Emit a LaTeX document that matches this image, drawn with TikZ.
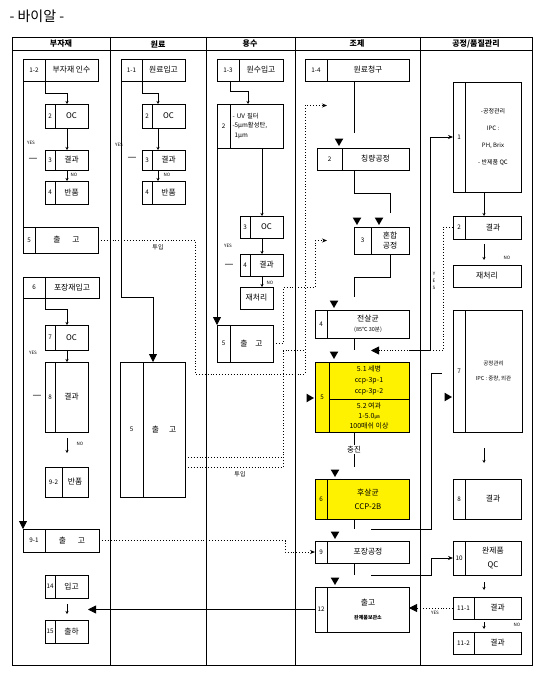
\documentclass[tikz,border=0pt]{standalone}
\usepackage{fontspec}
\setmainfont{Noto Sans CJK KR}
\usetikzlibrary{positioning,arrows.meta,shapes.geometric}

\begin{document}
\begin{tikzpicture}
  [x=1pt, y=-1pt,
  cell/.style={draw, line width=0.8pt, inner sep=0pt, outer sep=0pt, anchor=north west, align=center, font=\fontsize{7.8}{11}\selectfont},
  numcell/.style={cell, font=\fontsize{6.3}{7}\selectfont},
  wh/.style 2 args={minimum width=#1pt, minimum height=#2pt},
  hilite/.style={fill=yellow},
  ln/.style={line width=0.8pt},
  qa/.style={line width=0.5pt, -{Stealth[length=3pt,width=3pt]}},
  dotline/.style={line width=0.9pt, dotted},
  bigtip/.style={-{Triangle[length=8pt,width=8pt]}},
  smalltip/.style={-{Stealth[length=5pt,width=4pt]}},
  tri/.style={regular polygon, regular polygon sides=3, fill, draw=none, inner sep=0pt, minimum size=10pt},
  tridown/.style={tri, shape border rotate=180},
  triright/.style={tri, shape border rotate=-90},
  yn/.style={font=\fontsize{4.5}{5}\selectfont, inner sep=0pt},
  hdr/.style={font=\bfseries\fontsize{8}{9}\selectfont}]

  \useasboundingbox (0,0) rectangle (544,674);
  \node[anchor=west, font=\fontsize{14}{16}\selectfont] (title) at (6,16) {- 바이알 -};

  % table frame
  \draw[ln] (12,37) rectangle (532,665);
  \draw[ln] (12,50) -- (532,50);
  \foreach \x in {110,206,295,420}
    \draw[ln] (\x,37) -- (\x,665);
  \node[hdr] (h1) at (61,44) {부자재};
  \node[hdr] (h2) at (158,44) {원료};
  \node[hdr] (h3) at (250,44) {용수};
  \node[hdr] (h4) at (357,44) {조제};
  \node[hdr] (h5) at (476,44) {공정/품질관리};

  % 부자재
  \node[numcell, wh={22}{22}] (n12) at (23,59) {1-2};
  \node[cell, wh={53}{22}, right=0pt of n12] (b12) {부자재 인수};
  \node[numcell, wh={10}{24}] (n2a) at (45,104) {2};
  \node[cell, wh={33}{24}, right=0pt of n2a] (b2a) {OC};
  \node[numcell, wh={10}{20}] (n3a) at (45,150) {3};
  \node[cell, wh={33}{20}, right=0pt of n3a] (b3a) {결과};
  \node[numcell, wh={10}{23}] (n4a) at (45,181) {4};
  \node[cell, wh={33}{23}, right=0pt of n4a] (b4a) {반품};
  \node[numcell, wh={12}{26}] (n5a) at (23,227) {5};
  \node[cell, wh={63}{26}, right=0pt of n5a] (b5a) {출\hspace{12pt}고};
  \node[numcell, wh={22}{21}] (n6a) at (23,277) {6};
  \node[cell, wh={54}{21}, right=0pt of n6a] (b6a) {포장재입고};
  \node[numcell, wh={10}{25}] (n7a) at (45,325) {7};
  \node[cell, wh={33}{25}, right=0pt of n7a] (b7a) {OC};
  \node[numcell, wh={10}{70}] (n8a) at (45,362) {8};
  \node[cell, wh={33}{70}, right=0pt of n8a] (b8a) {결과};
  \node[numcell, wh={17}{30}] (n92) at (45,467) {9-2};
  \node[cell, wh={26}{30}, right=0pt of n92] (b92) {반품};
  \node[numcell, wh={22}{23}] (n91) at (23,529) {9-1};
  \node[cell, wh={54}{23}, right=0pt of n91] (b91) {출\hspace{12pt}고};
  \node[numcell, wh={10}{23}] (n14) at (45,575) {14};
  \node[cell, wh={33}{23}, right=0pt of n14] (b14) {입고};
  \node[numcell, wh={10}{23}] (n15) at (45,620) {15};
  \node[cell, wh={33}{23}, right=0pt of n15] (b15) {출하};

  % 원료
  \node[numcell, wh={21}{22}] (n11) at (121,59) {1-1};
  \node[cell, wh={43}{22}, right=0pt of n11] (b11) {원료입고};
  \node[numcell, wh={10}{24}] (n2b) at (142,104) {2};
  \node[cell, wh={33}{24}, right=0pt of n2b] (b2b) {OC};
  \node[numcell, wh={10}{20}] (n3b) at (142,150) {3};
  \node[cell, wh={33}{20}, right=0pt of n3b] (b3b) {결과};
  \node[numcell, wh={10}{23}] (n4b) at (142,181) {4};
  \node[cell, wh={33}{23}, right=0pt of n4b] (b4b) {반품};
  \node[numcell, wh={23}{135}] (n5b) at (120,362) {5};
  \node[cell, wh={42}{135}, right=0pt of n5b] (b5b) {출\hspace{10pt}고};

  % 용수
  \node[numcell, wh={22}{22}] (n13) at (217,59) {1-3};
  \node[cell, wh={44}{22}, right=0pt of n13] (b13) {원수입고};
  \node[numcell, wh={13}{44}] (n2c) at (217,104) {2};
  \node[cell, wh={53}{44}, right=0pt of n2c, text width=48pt, align=left, font=\fontsize{6.3}{9.5}\selectfont] (b2c) {- UV 필터\\-5μm활성탄,\\\ 1μm};
  \node[numcell, wh={10}{22}] (n3c) at (240,216) {3};
  \node[cell, wh={33}{22}, right=0pt of n3c] (b3c) {OC};
  \node[numcell, wh={10}{22}] (n4c) at (240,254) {4};
  \node[cell, wh={33}{22}, right=0pt of n4c] (b4c) {결과};
  \node[cell, wh={33}{22}] (rc) at (240,287) {재처리};
  \node[numcell, wh={13}{37}] (n5c) at (217,325) {5};
  \node[cell, wh={43}{37}, right=0pt of n5c] (b5c) {출\hspace{8pt}고};

  % 조제
  \node[numcell, wh={22}{22}] (n14d) at (305,59) {1-4};
  \node[cell, wh={82}{22}, right=0pt of n14d] (b14d) {원료청구};
  \node[numcell, wh={25}{22}] (n2d) at (317,148) {2};
  \node[cell, wh={67}{22}, right=0pt of n2d] (b2d) {칭량공정};
  \node[numcell, wh={17}{27}] (n3d) at (354,227) {3};
  \node[cell, wh={38}{27}, right=0pt of n3d, font=\fontsize{7.8}{10.5}\selectfont] (b3d) {혼합\\공정};
  \node[numcell, wh={12}{28}] (n4d) at (315,310) {4};
  \node[cell, wh={82}{28}, right=0pt of n4d, font=\fontsize{7.8}{10}\selectfont] (b4d) {전살균\\{\fontsize{5.5}{6}\selectfont(85℃ 30분)}};
  \node[numcell, hilite, wh={14}{70}] (n5d) at (315,362) {5};
  \node[cell, hilite, wh={80}{37}, font=\fontsize{7}{11}\selectfont] (b51) at (n5d.north east) {5.1 세병\\ccp-3p-1\\ccp-3p-2};
  \node[cell, hilite, wh={80}{33}, below=0pt of b51, font=\fontsize{7}{10}\selectfont] (b52) {5.2 여과\\1-5.0{\fontsize{5}{6}\selectfont ㎛}\\100매쉬 이상};
  \node[numcell, hilite, wh={12}{40}] (n6d) at (315,479) {6};
  \node[cell, hilite, wh={82}{40}, right=0pt of n6d, font=\fontsize{7.8}{14}\selectfont] (b6d) {후살균\\CCP-2B};
  \node[numcell, wh={12}{22}] (n9d) at (315,541) {9};
  \node[cell, wh={82}{22}, right=0pt of n9d] (b9d) {포장공정};
  \node[numcell, wh={12}{45}] (n12d) at (315,587) {12};
  \node[cell, wh={82}{45}, right=0pt of n12d, font=\fontsize{7.8}{14}\selectfont] (b12d) {출고\\{\bfseries\fontsize{5}{6}\selectfont 완제품보관소}};

  % 공정/품질관리
  \node[numcell, wh={12}{110}] (n1e) at (453,82) {1};
  \node[cell, wh={56}{110}, right=0pt of n1e, font=\fontsize{6}{17}\selectfont] (b1e) {-공정관리\\IPC :\\PH, Brix\\- 반제품 QC};
  \node[numcell, wh={12}{23}] (n2e) at (453,216) {2};
  \node[cell, wh={56}{23}, right=0pt of n2e] (b2e) {결과};
  \node[cell, wh={68}{22}] (re) at (453,265) {재처리};
  \node[numcell, wh={12}{122}] (n7e) at (453,310) {7};
  \node[cell, wh={57}{122}, right=0pt of n7e, font=\fontsize{5.5}{15}\selectfont] (b7e) {공정관리\\IPC : 중량, 외관};
  \node[numcell, wh={12}{40}] (n8e) at (453,479) {8};
  \node[cell, wh={56}{40}, right=0pt of n8e] (b8e) {결과};
  \node[numcell, wh={12}{34}] (n10e) at (453,541) {10};
  \node[cell, wh={56}{34}, right=0pt of n10e, font=\fontsize{7.8}{14}\selectfont] (b10e) {완제품\\QC};
  \node[numcell, wh={21}{22}] (n111) at (453,597) {11-1};
  \node[cell, wh={47}{22}, right=0pt of n111] (b111) {결과};
  \node[numcell, wh={21}{22}] (n112) at (453,632) {11-2};
  \node[cell, wh={47}{22}, right=0pt of n112] (b112) {결과};

  % 부자재 flow
  \draw[qa] (n12.south east) |- ++(22,12) -- ++(0,11);
  \draw[qa] ([xshift=22pt]n2a.south west) -- ([xshift=22pt]n3a.north west);
  \draw[qa] ([xshift=22pt]n3a.south west) -- ([xshift=22pt]n4a.north west);
  \draw[ln] (n12.south west) -- (n5a.north west);
  \draw[qa] (n6a.south east) |- ++(22,11) -- ++(0,16);
  \draw[qa] ([xshift=22pt]n7a.south west) -- ([xshift=22pt]n8a.north west);
  \draw[qa, shorten <=6pt, shorten >=14pt] ([xshift=22pt]n8a.south west) -- ([xshift=22pt]n92.north west);
  \draw[ln, bigtip] (n6a.south west) -- (n91.north west);
  \draw[qa, shorten <=6pt, shorten >=6pt] ([xshift=22pt]n14.south west) -- ([xshift=22pt]n15.north west);
  \node[yn] (y1) at (31,143) {YES};
  \node (d1) at (33,160) {—};
  \node[yn] (no1) at (74,175) {NO};
  \node[yn] (y4) at (33,353) {YES};
  \node (d4) at (37,397) {—};
  \node[yn] (no4) at (80,444) {NO};

  % 원료 flow
  \draw[qa] (n11.south east) |- ++(16,12) -- ++(0,11);
  \draw[qa] ([xshift=16pt]n2b.south west) -- ([xshift=16pt]n3b.north west);
  \draw[qa] ([xshift=16pt]n3b.south west) -- ([xshift=16pt]n4b.north west);
  \draw[ln, bigtip] (n11.south west) |- ++(32,216) -- ++(0,65);
  \node[yn] (y2) at (119,145) {YES};
  \node (d2) at (132,159) {—};
  \node[yn] (no2) at (167,175) {NO};

  % 용수 flow
  \draw[qa] ([xshift=13pt]n13.south west) |- ++(18,10) -- ++(0,13);
  \draw[qa] ([xshift=45pt]n2c.south west) -- ([xshift=22pt]n3c.north west);
  \draw[qa] ([xshift=22pt]n3c.south west) -- ([xshift=22pt]n4c.north west);
  \draw[qa] ([xshift=22pt]n4c.south west) -- ([xshift=22pt]rc.north west);
  \draw[ln, bigtip] (n2c.south west) -- (n5c.north west);
  \node[yn] (y3) at (228,246) {YES};
  \node (d3) at (229,266) {—};
  \node[yn] (no3) at (270,283) {NO};

  % 조제 flow
  \draw[ln] ([xshift=-14pt]b14d.south) -- ++(0,52);
  \node[tridown] (a1) at (339,141) {};
  \draw[ln] (n3d.north west |- b2d.south) |- ++(36,23) -- ++(0,20);
  \node[tridown] (a2) at (357,220) {};
  \node[tridown] (a3) at (379,220) {};
  \draw[ln] (b3d.south) |- ++(-36,23) -- ++(0,20);
  \node[tridown] (a4) at (334,303) {};
  \draw[ln] ([xshift=-14pt]b4d.south) -- ++(0,12);
  \node[tridown] (a5) at (334,354) {};
  \draw[ln] ([xshift=-15pt]b52.south) -- ++(0,35) node[midway, fill=white, inner sep=1pt, font=\fontsize{7.5}{8}\selectfont] (chj) {충진};
  \node[tridown] (a6) at (335,472) {};
  \draw[ln] ([xshift=-14pt]b6d.south) -- ++(0,10);
  \node[tridown] (a7) at (335,534) {};
  \draw[ln] ([xshift=-14pt]b9d.south) -- ++(0,12);
  \node[tridown] (a8) at (335,580) {};
  \draw[ln] ([shift={(3pt,-10pt)}]b6d.south) -- ++(60,0) -- ++(0,-156) -- ++(11,0);
  \node[triright] (a9) at (447,397) {};
  \node[triright] (a10) at (309,398) {};
  \draw[ln, smalltip] ([shift={(3pt,-12pt)}]b9d.south) -- ++(60,0) |- (n10e.west);
  \draw[ln, bigtip] (n12d.west) -- (n12d.west -| b15.east);
  \draw[ln, smalltip] ([yshift=-12pt]b4d.south east) -- ++(21,0) |- (n1e.west);

  % 공정/품질관리 flow
  \draw[qa] ([xshift=31pt]n1e.south west) -- ([xshift=31pt]n2e.north west);
  \draw[qa, shorten <=5pt, shorten >=5pt] ([xshift=31pt]n2e.south west) -- ([xshift=31pt]re.north west);
  \draw[qa, shorten <=16pt, shorten >=16pt] ([xshift=31pt]n7e.south west) -- ([xshift=31pt]n8e.north west);
  \draw[qa, shorten <=7pt, shorten >=7pt] ([xshift=31pt]n10e.south west) -- ([xshift=31pt]n111.north west);
  \draw[qa, shorten <=3pt, shorten >=3pt] ([xshift=31pt]n111.south west) -- ([xshift=31pt]n112.north west);
  \node[yn] (no5) at (507,258) {NO};
  \node[yn] (no6) at (517,625) {NO};
  \node[yn] (y5) at (435,613) {YES};
  \node[yn, align=center, font=\fontsize{4.5}{7}\selectfont] (y6) at (434,281) {Y\\E\\S};

  % dotted supply lines
  \draw[dotline, bigtip] (n2e.west) -- ++(-10,0) -- ++(0,123) -- ++(-72,0);
  \draw[dotline, bigtip] (n111.west) -- (n111.west -| b12d.east);
  \draw[dotline] (b5a.east) -- ++(97,0) -- ++(0,134) -- ++(110,0) -- ++(0,-24);
  \draw[dotline, smalltip] ([yshift=-38pt]b5b.east) -- ++(98,0) -- ++(0,-117) -- ++(22,0) -- ++(0,-245) -- ++(22,0);
  \draw[dotline] ([yshift=-28pt]b5b.east) -- ++(98,0);
  \draw[dotline, smalltip] (b5c.east) -- ++(10,0) -- ++(0,-56) -- ++(32,0) -- ++(0,-47) -- ++(12,0);
  \draw[dotline, smalltip] (b91.east) -- ++(186,0) |- (n9d.west);
  \node[font=\fontsize{6}{7}\selectfont] (in1) at (158,247) {투입};
  \node[font=\fontsize{6}{7}\selectfont] (in2) at (240,474) {투입};

\end{tikzpicture}
\end{document}
